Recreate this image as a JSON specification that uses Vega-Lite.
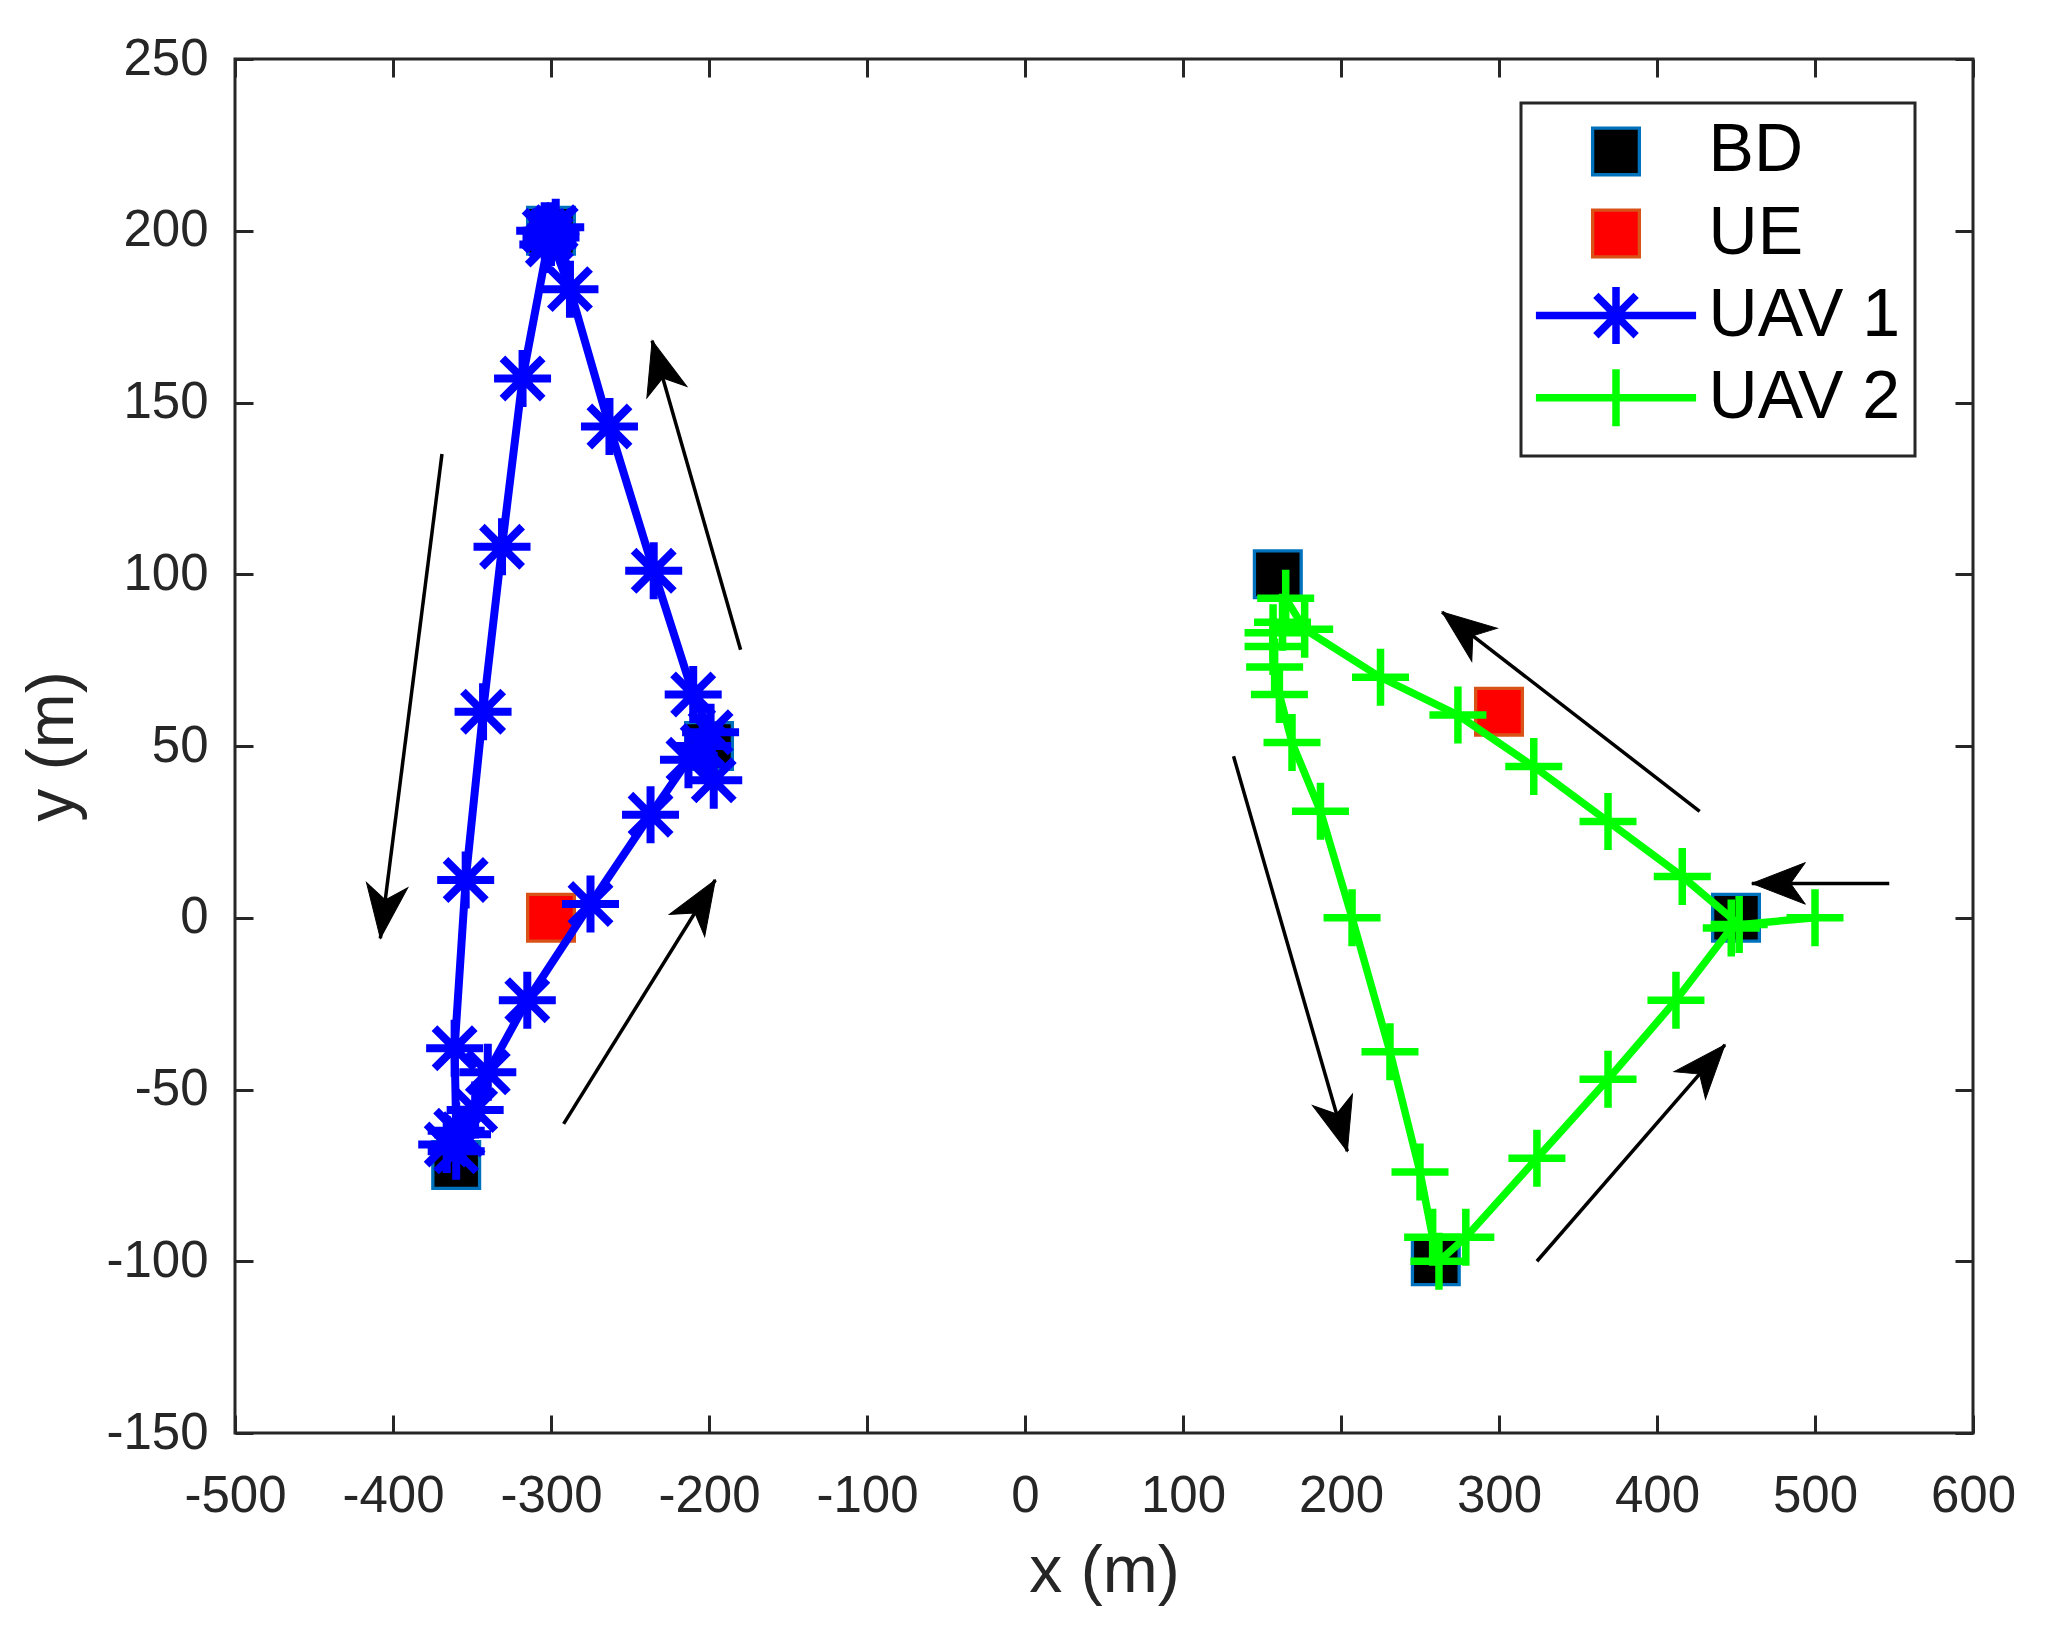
{
  "$schema": "https://vega.github.io/schema/vega-lite/v6.json",
  "width": 1738,
  "height": 1374,
  "autosize": "none",
  "padding": {"left": 235, "top": 59, "right": 73, "bottom": 203},
  "background": "white",
  "datasets": {
    "bd": [
      {"x": -300, "y": 200}, {"x": -200, "y": 50}, {"x": -360, "y": -72},
      {"x": 160, "y": 100}, {"x": 260, "y": -100}, {"x": 450, "y": 0}
    ],
    "ue": [{"x": -300, "y": 0}, {"x": 300, "y": 60}],
    "uav1": [
      {"x": -300, "y": 200}, {"x": -302, "y": 196}, {"x": -318, "y": 157}, {"x": -331, "y": 108},
      {"x": -343, "y": 60}, {"x": -354, "y": 11}, {"x": -361, "y": -38}, {"x": -360, "y": -62},
      {"x": -366, "y": -66}, {"x": -360, "y": -68}, {"x": -356, "y": -63}, {"x": -348, "y": -56},
      {"x": -340, "y": -45}, {"x": -315, "y": -24}, {"x": -275, "y": 4}, {"x": -237, "y": 30},
      {"x": -213, "y": 46}, {"x": -204, "y": 50}, {"x": -197, "y": 40}, {"x": -199, "y": 54},
      {"x": -210, "y": 65}, {"x": -235, "y": 101}, {"x": -263, "y": 143}, {"x": -288, "y": 183},
      {"x": -300, "y": 198}, {"x": -304, "y": 200}, {"x": -297, "y": 201}
    ],
    "uav2": [
      {"x": 500, "y": 0}, {"x": 452, "y": -2}, {"x": 416, "y": 12}, {"x": 369, "y": 28},
      {"x": 322, "y": 44}, {"x": 274, "y": 59}, {"x": 225, "y": 70}, {"x": 177, "y": 84},
      {"x": 165, "y": 93}, {"x": 163, "y": 86}, {"x": 157, "y": 83}, {"x": 157, "y": 79},
      {"x": 158, "y": 73}, {"x": 161, "y": 65}, {"x": 169, "y": 51}, {"x": 187, "y": 31},
      {"x": 207, "y": 0}, {"x": 231, "y": -39}, {"x": 250, "y": -74}, {"x": 258, "y": -93},
      {"x": 262, "y": -100}, {"x": 279, "y": -93}, {"x": 324, "y": -70}, {"x": 369, "y": -47},
      {"x": 412, "y": -24}, {"x": 447, "y": -3}
    ],
    "arrows": [
      {"x": -369, "y": 135, "x2": -408, "y2": -6},
      {"x": -180, "y": 78, "x2": -236, "y2": 168},
      {"x": -292, "y": -60, "x2": -196, "y2": 11},
      {"x": 132, "y": 47, "x2": 204, "y2": -68},
      {"x": 427, "y": 31, "x2": 264, "y2": 89},
      {"x": 547, "y": 10, "x2": 460, "y2": 10},
      {"x": 324, "y": -100, "x2": 443, "y2": -37}
    ]
  },
  "layer": [
    {
      "encoding": {
        "x": {
          "field": "x", "type": "quantitative",
          "scale": {"domain": [-500, 600], "nice": false, "zero": false},
          "axis": {
            "orient": "bottom", "title": "x (m)",
            "values": [-500, -400, -300, -200, -100, 0, 100, 200, 300, 400, 500, 600],
            "labelPadding": 56, "titlePadding": 18, "labelExpr": "'' + datum.value"
          }
        },
        "y": {
          "field": "y", "type": "quantitative",
          "scale": {"domain": [-150, 250], "nice": false, "zero": false},
          "axis": {
            "orient": "left", "title": "y (m)",
            "values": [-150, -100, -50, 0, 50, 100, 150, 200, 250],
            "labelPadding": 45, "titlePadding": 19, "labelExpr": "'' + datum.value"
          }
        }
      },
      "layer": [
        {
          "data": {"name": "bd"},
          "mark": {"type": "point", "shape": "M-0.82,-0.82L0.82,-0.82L0.82,0.82L-0.82,0.82Z", "size": 3249, "filled": true, "fill": "black", "stroke": "#0072BD", "strokeWidth": 3.3, "opacity": 1}
        },
        {
          "data": {"name": "ue"},
          "mark": {"type": "point", "shape": "M-0.82,-0.82L0.82,-0.82L0.82,0.82L-0.82,0.82Z", "size": 3249, "filled": true, "fill": "red", "stroke": "#D95319", "strokeWidth": 3.3, "opacity": 1}
        },
        {
          "data": {"name": "uav1"},
          "mark": {"type": "line", "color": "#0000FF", "strokeWidth": 8, "opacity": 1},
          "encoding": {"order": {"value": null}}
        },
        {
          "data": {"name": "uav1"},
          "mark": {"type": "point", "shape": "M0,-1L0,1M-1,0L1,0M-0.707,-0.707L0.707,0.707M-0.707,0.707L0.707,-0.707", "size": 3249, "filled": false, "fill": "transparent", "stroke": "#0000FF", "strokeWidth": 8, "opacity": 1}
        },
        {
          "data": {"name": "uav2"},
          "mark": {"type": "line", "color": "#00FF00", "strokeWidth": 7.5, "opacity": 1},
          "encoding": {"order": {"value": null}}
        },
        {
          "data": {"name": "uav2"},
          "mark": {"type": "point", "shape": "M0,-1L0,1M-1,0L1,0", "size": 3249, "filled": false, "fill": "transparent", "stroke": "#00FF00", "strokeWidth": 7.5, "opacity": 1}
        },
        {
          "data": {"name": "arrows"},
          "mark": {"type": "rule", "color": "black", "strokeWidth": 3.5},
          "encoding": {"x2": {"field": "x2"}, "y2": {"field": "y2"}}
        },
        {
          "data": {"name": "arrows"},
          "transform": [
            {"calculate": "atan2((datum.x2 - datum.x) * 1738 / 1100, (datum.y2 - datum.y) * 1374 / 400) * 180 / PI", "as": "heading"}
          ],
          "mark": {"type": "point", "shape": "M0,0L0.73,1.88L0,1.36L-0.73,1.88Z", "size": 3249, "filled": true, "fill": "black", "stroke": "black", "strokeWidth": 1, "opacity": 1},
          "encoding": {
            "x": {"field": "x2", "type": "quantitative"},
            "y": {"field": "y2", "type": "quantitative"},
            "angle": {"field": "heading", "type": "quantitative", "scale": null}
          }
        },
        {
          "data": {"values": []},
          "mark": {"type": "point", "filled": true, "opacity": 1},
          "encoding": {
            "shape": {
              "field": "series", "type": "nominal",
              "scale": {
                "domain": ["BD", "UE", "UAV 1", "UAV 2"],
                "range": [
                  "M-0.82,-0.82L0.82,-0.82L0.82,0.82L-0.82,0.82Z",
                  "M-0.82,-0.82L0.82,-0.82L0.82,0.82L-0.82,0.82Z",
                  "M-2.81,0L2.81,0M0,-1L0,1M-0.707,-0.707L0.707,0.707M-0.707,0.707L0.707,-0.707",
                  "M-2.81,0L2.81,0M0,-1L0,1"
                ]
              },
              "legend": {"title": null}
            },
            "fill": {
              "field": "series", "type": "nominal",
              "scale": {"domain": ["BD", "UE", "UAV 1", "UAV 2"], "range": ["black", "red", "transparent", "transparent"]},
              "legend": {"title": null}
            },
            "stroke": {
              "field": "series", "type": "nominal",
              "scale": {"domain": ["BD", "UE", "UAV 1", "UAV 2"], "range": ["#0072BD", "#D95319", "#0000FF", "#00FF00"]},
              "legend": {"title": null}
            },
            "strokeWidth": {
              "field": "series", "type": "nominal",
              "scale": {"type": "ordinal", "domain": ["BD", "UE", "UAV 1", "UAV 2"], "range": [3.3, 3.3, 7.5, 7.5]},
              "legend": {"title": null}
            }
          }
        }
      ]
    },
    {
      "data": {"values": []},
      "mark": {"type": "point", "opacity": 0},
      "encoding": {
        "x": {
          "field": "x", "type": "quantitative",
          "scale": {"domain": [-500, 600], "nice": false, "zero": false},
          "axis": {"orient": "top", "title": null, "labels": false,
            "values": [-500, -400, -300, -200, -100, 0, 100, 200, 300, 400, 500, 600]}
        },
        "y": {
          "field": "y", "type": "quantitative",
          "scale": {"domain": [-150, 250], "nice": false, "zero": false},
          "axis": {"orient": "right", "title": null, "labels": false,
            "values": [-150, -100, -50, 0, 50, 100, 150, 200, 250]}
        }
      }
    }
  ],
  "resolve": {
    "scale": {"x": "independent", "y": "independent"},
    "axis": {"x": "independent", "y": "independent"}
  },
  "config": {
    "font": "Liberation Sans",
    "view": {"stroke": "#262626", "strokeWidth": 3},
    "axis": {
      "tickSize": -18, "tickWidth": 3, "tickColor": "#262626",
      "domain": false, "grid": false,
      "labelFont": "Liberation Sans", "labelFontSize": 51, "labelColor": "#262626",
      "labelFlush": false, "labelOverlap": false,
      "titleFont": "Liberation Sans", "titleFontSize": 66, "titleFontWeight": "normal", "titleColor": "#262626"
    },
    "legend": {
      "orient": "none", "legendX": 1286, "legendY": 44, "direction": "vertical",
      "padding": 14.4, "strokeColor": "#262626", "strokeWidth": 3, "fillColor": "white",
      "labelFont": "Liberation Sans", "labelFontSize": 68, "labelColor": "black", "labelLimit": 500,
      "symbolSize": 3249, "symbolOffset": 46.6, "labelOffset": 58.6, "rowPadding": -5.9, "gridAlign": "all",
      "symbolOpacity": 1, "symbolType": "square"
    }
  }
}
